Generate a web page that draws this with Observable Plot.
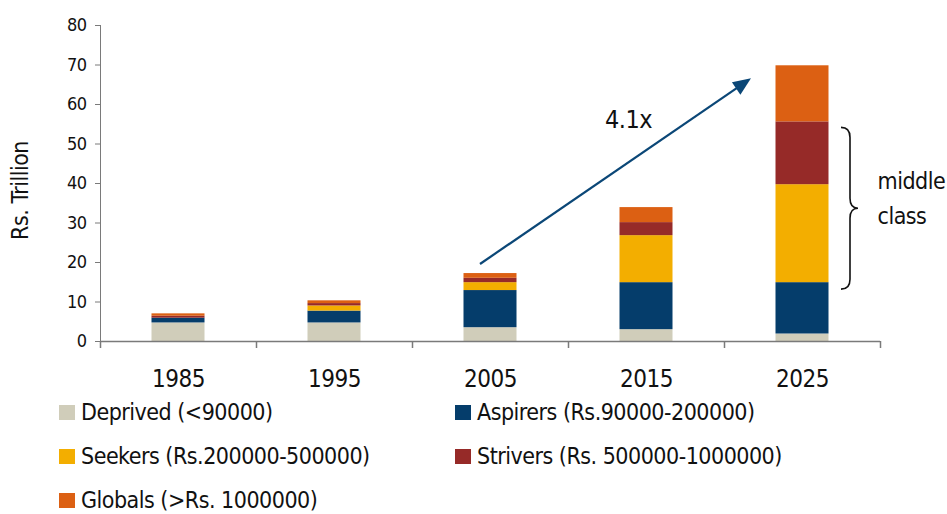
<!DOCTYPE html>
<html>
<head>
<meta charset="utf-8">
<script src="https://cdn.jsdelivr.net/npm/d3@7"></script>
<script src="https://cdn.jsdelivr.net/npm/@observablehq/plot@0.6"></script>
<style>
  body { margin: 0; background: #fff; }
  #chart { position: relative; width: 947px; height: 514px; overflow: hidden; font-family: "Liberation Sans Narrow", "DejaVu Sans Condensed", sans-serif; color: #111; }
  #chart svg text { letter-spacing: -0.5px; }
  .legend { position: absolute; left: 0; top: 390px; display: grid; grid-template-columns: 396px 420px; padding-left: 59px; }
  .item { height: 44px; display: flex; align-items: center; font-size: 23px; letter-spacing: -0.5px; white-space: nowrap; }
  .sw { width: 16px; height: 15px; margin-right: 6px; flex: none; }
</style>
</head>
<body>
<div id="chart"></div>
<script>
// Household income by class, Rs. trillion
const years = ["1985", "1995", "2005", "2015", "2025"];
const groups = [
  "Deprived (<90000)",
  "Aspirers (Rs.90000-200000)",
  "Seekers (Rs.200000-500000)",
  "Strivers (Rs. 500000-1000000)",
  "Globals (>Rs. 1000000)"
];
const deprived = [4.7, 4.7, 3.5, 3.0, 1.9];
const aspirers = [1.2, 3.0, 9.4, 11.9, 13.0];
const seekers  = [0.0, 1.3, 2.0, 11.9, 24.8];
const strivers = [0.5, 0.6, 1.1, 3.3, 15.9];
const globals  = [0.6, 0.7, 1.2, 3.8, 14.2];
const colors = ["#d0cdba", "#053d6b", "#f3ae00", "#962a28", "#dc6013"];
const yTicks = [0, 10, 20, 30, 40, 50, 60, 70, 80];

// Growth annotation: 2005 to 2025
const growthLabel = "4.1x";

(function () {
  const series = [deprived, aspirers, seekers, strivers, globals];
  const rows = [];
  years.forEach((year, i) => {
    series.forEach((vals, gi) => rows.push({year, group: groups[gi], value: vals[i]}));
  });

  const fontFamily = '"Liberation Sans Narrow", "DejaVu Sans Condensed", sans-serif';

  // the middle-class block (Seekers + Strivers) in the final year
  const last = years.length - 1;
  const midLow = deprived[last] + aspirers[last];
  const midHigh = midLow + seekers[last] + strivers[last];

  const plot = Plot.plot({
    width: 947,
    height: 400,
    marginLeft: 100,
    marginRight: 67,
    marginTop: 25,
    marginBottom: 59,
    style: {fontFamily, fontSize: "18px", color: "#111", background: "transparent", overflow: "visible"},
    x: {domain: years, padding: 0},
    y: {domain: [0, 80]},
    color: {domain: groups, range: colors},
    marks: [
      Plot.barY(rows, {
        x: "year", y: "value", fill: "group", order: groups,
        insetLeft: 51.5, insetRight: 51.5
      }),
      Plot.frame({anchor: "left", stroke: "#7a7a7a", strokeWidth: 1}),
      Plot.ruleY([0], {stroke: "#7a7a7a", strokeWidth: 1.5}),
      // category boundary ticks below the baseline
      Plot.ruleX(years, {x: d => d, y1: 0, y2: 0, insetBottom: -7, dx: -78, stroke: "#7a7a7a", strokeWidth: 1.5}),
      Plot.ruleX([years[last]], {x: d => d, y1: 0, y2: 0, insetBottom: -7, dx: 78, stroke: "#7a7a7a", strokeWidth: 1.5}),
      Plot.axisY({ticks: yTicks, tickSize: 5, tickPadding: 9, fontSize: 18, stroke: "#7a7a7a", label: null}),
      Plot.text(["Rs. Trillion"], {frameAnchor: "left", text: d => d, rotate: -90, textAnchor: "middle",
        dx: -80, dy: 7, fontSize: 23, fill: "#111"}),
      Plot.axisX({tickSize: 0, tickPadding: 28, fontSize: 24, label: null}),
      Plot.text([growthLabel], {x: () => years[3], y: () => 56, text: d => d, dx: -18, fontSize: 25, fill: "#111"}),
      Plot.text(["middle\nclass"], {x: () => years[last], y: () => (midLow + midHigh) / 2, text: d => d,
        dx: 75, dy: -7, textAnchor: "start", lineHeight: 1.5, fontSize: 23, fill: "#111"})
    ]
  });

  // Arrow and brace drawn through the chart's own scales
  const sx = plot.scale("x"), sy = plot.scale("y");
  const bw = sx.bandwidth;
  const svg = d3.select(plot.tagName.toLowerCase() === "svg" ? plot : plot.querySelector("svg"));
  const g = svg.append("g");

  const ax0 = sx.apply(years[2]) + bw / 2 - 10, ay0 = sy.apply(19.5);
  const ax1 = sx.apply(years[last]) + bw / 2 - 51, ay1 = sy.apply(66.5);
  const len = Math.hypot(ax1 - ax0, ay1 - ay0);
  const ux = (ax1 - ax0) / len, uy = (ay1 - ay0) / len;
  const head = 18, half = 7.5;
  const hx = ax1 - ux * head, hy = ay1 - uy * head;
  g.append("line")
    .attr("x1", ax0).attr("y1", ay0).attr("x2", hx + ux * 2).attr("y2", hy + uy * 2)
    .attr("stroke", "#0b4777").attr("stroke-width", 2.2);
  g.append("path")
    .attr("d", `M${ax1},${ay1}L${hx - uy * half},${hy + ux * half}L${hx + uy * half},${hy - ux * half}Z`)
    .attr("fill", "#0b4777");

  const bLeft = sx.apply(years[last]) + bw / 2 + 39;
  const stem = bLeft + 9, tipX = bLeft + 17;
  const bTop = sy.apply(midHigh) + 6, bBot = sy.apply(midLow) + 7, bMid = (bTop + bBot) / 2, r = 10;
  g.append("path")
    .attr("d", `M${bLeft},${bTop}Q${stem},${bTop} ${stem},${bTop + r}L${stem},${bMid - r}Q${stem},${bMid} ${tipX},${bMid}` +
               `Q${stem},${bMid} ${stem},${bMid + r}L${stem},${bBot - r}Q${stem},${bBot} ${bLeft},${bBot}`)
    .attr("fill", "none").attr("stroke", "#111").attr("stroke-width", 1.6);

  const root = document.getElementById("chart");
  root.append(plot);

  const legend = d3.select(root).append("div").attr("class", "legend");
  groups.forEach((name, i) => {
    const item = legend.append("div").attr("class", "item");
    item.append("span").attr("class", "sw").style("background", colors[i]);
    item.append("span").text(name);
  });
})();
</script>
</body>
</html>
